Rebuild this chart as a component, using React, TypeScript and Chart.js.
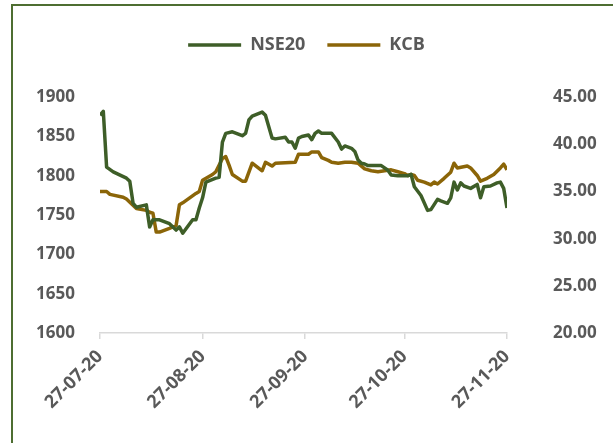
import React, { useEffect, useRef } from "react";
import { Chart, registerables } from "chart.js";

Chart.register(...registerables);

const nseDates = [
  "2020-07-27", "2020-07-28", "2020-07-29", "2020-07-31", "2020-08-04", "2020-08-05", "2020-08-06", "2020-08-07",
  "2020-08-10", "2020-08-11", "2020-08-12", "2020-08-14", "2020-08-17", "2020-08-19", "2020-08-20", "2020-08-21",
  "2020-08-24", "2020-08-25", "2020-08-26", "2020-08-27", "2020-08-28", "2020-08-31", "2020-09-01", "2020-09-02",
  "2020-09-03", "2020-09-05", "2020-09-08", "2020-09-09", "2020-09-10", "2020-09-11", "2020-09-14", "2020-09-15",
  "2020-09-17", "2020-09-18", "2020-09-21", "2020-09-22", "2020-09-23", "2020-09-24", "2020-09-25", "2020-09-26",
  "2020-09-28", "2020-09-29", "2020-09-30", "2020-10-01", "2020-10-02", "2020-10-05", "2020-10-07", "2020-10-08",
  "2020-10-09", "2020-10-11", "2020-10-12", "2020-10-13", "2020-10-14", "2020-10-15", "2020-10-16", "2020-10-20",
  "2020-10-21", "2020-10-22", "2020-10-23", "2020-10-25", "2020-10-28", "2020-10-29", "2020-10-30", "2020-11-01",
  "2020-11-03", "2020-11-04", "2020-11-06", "2020-11-07", "2020-11-09", "2020-11-10", "2020-11-11", "2020-11-12",
  "2020-11-13", "2020-11-14", "2020-11-16", "2020-11-18", "2020-11-19", "2020-11-20", "2020-11-22", "2020-11-24",
  "2020-11-25", "2020-11-26", "2020-11-27",
];
const nseValues = [
  1877, 1882, 1811, 1805, 1797, 1793, 1765, 1760,
  1763, 1735, 1744, 1744, 1739, 1731, 1735, 1727,
  1744, 1744, 1759, 1772, 1792, 1797, 1798, 1843,
  1854, 1856, 1851, 1854, 1871, 1876, 1881, 1877,
  1848, 1847, 1849, 1843, 1843, 1835, 1848, 1850,
  1852, 1846, 1854, 1857, 1854, 1854, 1843, 1834,
  1838, 1835, 1831, 1820, 1816, 1815, 1813, 1813,
  1810, 1807, 1801, 1800, 1800, 1802, 1786, 1775,
  1756, 1757, 1770, 1768, 1765, 1772, 1792, 1782,
  1791, 1787, 1784, 1789, 1772, 1786, 1787, 1791,
  1792, 1784, 1759,
];

const kcbDates = [
  "2020-07-27", "2020-07-29", "2020-07-30", "2020-08-03", "2020-08-04", "2020-08-07", "2020-08-10", "2020-08-11",
  "2020-08-12", "2020-08-13", "2020-08-14", "2020-08-17", "2020-08-19", "2020-08-20", "2020-08-21", "2020-08-25",
  "2020-08-26", "2020-08-27", "2020-08-30", "2020-08-31", "2020-09-02", "2020-09-03", "2020-09-04", "2020-09-05",
  "2020-09-08", "2020-09-09", "2020-09-11", "2020-09-14", "2020-09-15", "2020-09-17", "2020-09-18", "2020-09-24",
  "2020-09-25", "2020-09-28", "2020-09-29", "2020-10-01", "2020-10-02", "2020-10-04", "2020-10-05", "2020-10-07",
  "2020-10-09", "2020-10-11", "2020-10-13", "2020-10-14", "2020-10-15", "2020-10-17", "2020-10-19", "2020-10-21",
  "2020-10-23", "2020-10-25", "2020-10-27", "2020-10-28", "2020-10-29", "2020-10-30", "2020-10-31", "2020-11-02",
  "2020-11-04", "2020-11-05", "2020-11-06", "2020-11-08", "2020-11-10", "2020-11-11", "2020-11-12", "2020-11-15",
  "2020-11-16", "2020-11-18", "2020-11-19", "2020-11-21", "2020-11-23", "2020-11-25", "2020-11-26", "2020-11-27",
];
const kcbValues = [
  35.0, 35.0, 34.7, 34.4, 34.2, 33.2, 33.0, 32.8,
  32.7, 30.7, 30.7, 31.1, 31.4, 33.6, 33.8, 34.8,
  35.0, 36.2, 36.8, 37.1, 38.5, 38.7, 37.8, 36.8,
  36.1, 36.1, 38.0, 37.2, 38.1, 37.7, 38.0, 38.1,
  38.95, 38.95, 39.2, 39.2, 38.6, 38.3, 38.1, 38.0,
  38.1, 38.1, 38.0, 37.7, 37.4, 37.2, 37.1, 37.2,
  37.3, 37.1, 36.9, 36.7, 36.8, 36.7, 36.2, 36.0,
  35.7, 36.0, 35.8, 36.4, 37.05, 38.0, 37.5, 37.7,
  37.5, 36.7, 36.1, 36.4, 36.8, 37.5, 37.9, 37.3,
];

const tickDates = ["2020-07-27", "2020-08-27", "2020-09-27", "2020-10-27", "2020-11-27"];
const tickLabels = ["27-07-20", "27-08-20", "27-09-20", "27-10-20", "27-11-20"];

const leftTicks = { min: 1600, max: 1900, step: 50 };
const rightTicks = { min: 20, max: 45, step: 5 };

const DAY = 86400000;
const startMs = Date.parse(tickDates[0]);
const toDay = (d: string) => Math.round((Date.parse(d) - startMs) / DAY);

const GREEN = "#3e5e28";
const GOLD = "#8b6508";
const TEXT = "#595959";
const FONT = "'Open Sans', 'DejaVu Sans', sans-serif";

export default function App() {
  const ref = useRef<HTMLCanvasElement | null>(null);

  useEffect(() => {
    if (!ref.current) return;
    const tickDays = tickDates.map(toDay);
    const chart = new Chart(ref.current, {
      type: "line",
      data: {
        datasets: [
          {
            label: "NSE20",
            data: nseDates.map((d, i) => ({ x: toDay(d), y: nseValues[i] })),
            borderColor: GREEN,
            backgroundColor: GREEN,
            borderWidth: 3.5,
            pointRadius: 0,
            tension: 0,
            borderJoinStyle: "round",
            yAxisID: "y",
          },
          {
            label: "KCB",
            data: kcbDates.map((d, i) => ({ x: toDay(d), y: kcbValues[i] })),
            borderColor: GOLD,
            backgroundColor: GOLD,
            borderWidth: 3.5,
            pointRadius: 0,
            tension: 0,
            borderJoinStyle: "round",
            yAxisID: "y1",
          },
        ],
      },
      options: {
        responsive: false,
        animation: false,
        layout: { padding: { top: 14, left: 0, right: 0, bottom: 0 } },
        plugins: {
          legend: {
            position: "top",
            weight: 1000,
            labels: {
              usePointStyle: true,
              pointStyle: "line",
              pointStyleWidth: 53,
              boxHeight: 18,
              padding: 22,
              color: TEXT,
              font: { family: FONT, size: 18, weight: "bold" },
            },
          },
          title: {
            display: true,
            text: " ",
            position: "top",
            weight: 500,
            font: { size: 1 },
            padding: { top: 0, bottom: 32 },
          },
          tooltip: { enabled: false },
        },
        scales: {
          x: {
            type: "linear",
            min: tickDays[0],
            max: tickDays[tickDays.length - 1],
            afterBuildTicks: (s: any) => {
              s.ticks = tickDays.map((v) => ({ value: v }));
            },
            afterFit: (s: any) => {
              s.height = 110;
              s.paddingLeft = 0;
              s.paddingRight = 0;
            },
            ticks: {
              autoSkip: false,
              maxRotation: 45,
              minRotation: 45,
              padding: 7,
              color: TEXT,
              font: { family: FONT, size: 18, weight: "bold" },
              callback: (_v: any, i: number) => tickLabels[i],
            },
            grid: { drawOnChartArea: false, drawTicks: true, tickLength: 6, color: "#d9d9d9", lineWidth: 1.5 },
            border: { display: true, color: "#d9d9d9", width: 1.5 },
          },
          y: {
            position: "left",
            min: leftTicks.min,
            max: leftTicks.max,
            afterFit: (s: any) => {
              s.width = 100;
            },
            ticks: {
              stepSize: leftTicks.step,
              padding: 17,
              color: TEXT,
              font: { family: FONT, size: 17, weight: "bold" },
              callback: (v: any) => String(v),
            },
            grid: { display: false },
            border: { display: false },
          },
          y1: {
            position: "right",
            min: rightTicks.min,
            max: rightTicks.max,
            afterFit: (s: any) => {
              s.width = 106;
            },
            ticks: {
              stepSize: rightTicks.step,
              padding: 38,
              color: TEXT,
              font: { family: FONT, size: 17, weight: "bold" },
              callback: (v: any) => Number(v).toFixed(2),
            },
            grid: { display: false },
            border: { display: false },
          },
        },
      },
    } as any);
    return () => chart.destroy();
  }, []);

  return (
    <div
      style={{
        position: "absolute",
        left: 0,
        top: 0,
        width: 613,
        height: 443,
        overflow: "hidden",
        background: "#ffffff",
      }}
    >
      <canvas ref={ref} width={613} height={443} style={{ display: "block" }} />
      <div
        style={{
          position: "absolute",
          left: 11,
          top: 4,
          width: 640,
          height: 480,
          border: "2px solid #4e6e31",
          pointerEvents: "none",
        }}
      />
    </div>
  );
}
